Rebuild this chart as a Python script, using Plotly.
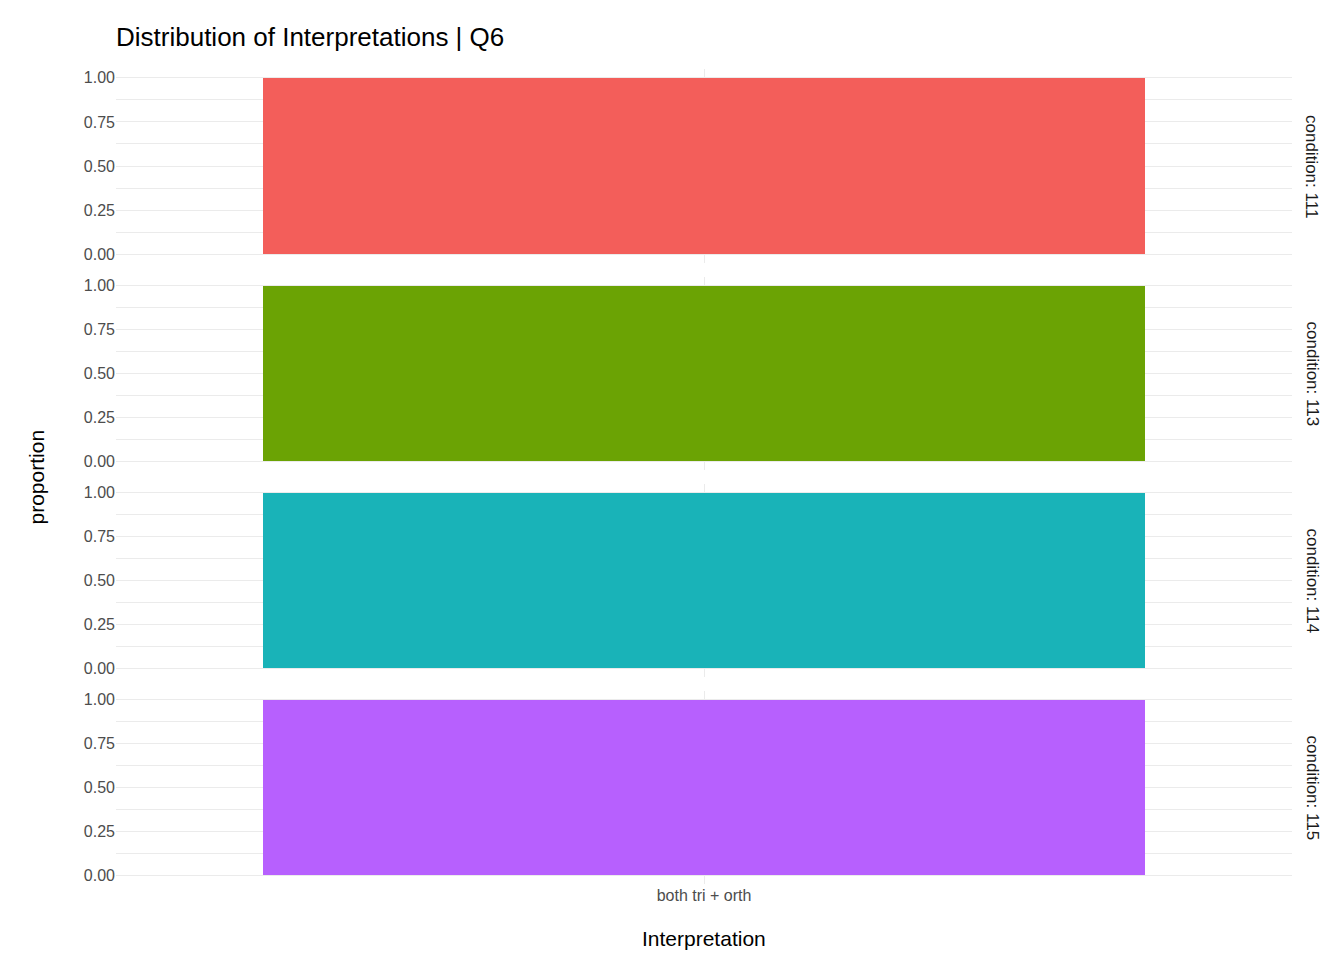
import plotly.graph_objects as go

categories = ["both tri + orth"]
conditions = ["111", "113", "114", "115"]
proportions = [[1.0], [1.0], [1.0], [1.0]]
colors = ["#F8766D", "#7CAE00", "#00BFC4", "#C77CFF"]
colors = ["#F35E5A", "#6BA304", "#19B3B8", "#B760FE"]
yticks = [0, 0.25, 0.5, 0.75, 1.0]
yticklabels = ["0.00", "0.25", "0.50", "0.75", "1.00"]

W, H = 1344, 960
L, R, T, B = 108, 60, 61, 84
ph = H - T - B
# panel pixel extents (top, bottom)
panels = [(61, 255), (269, 462), (476, 669), (683, 876)]

fig = go.Figure()
font = dict(family="Liberation Sans, Arial", size=16, color="#4d4d4d")
for i, (cond, vals, col) in enumerate(zip(conditions, proportions, colors)):
    n = "" if i == 0 else str(i + 1)
    fig.add_trace(go.Bar(x=categories, y=vals, marker=dict(color=col, line=dict(width=0)),
                         width=0.9, xaxis="x" + n, yaxis="y" + n, showlegend=False))
    top, bot = panels[i]
    dom = [(H - B - bot) / ph, (H - B - top) / ph]
    fig.layout["yaxis" + n] = dict(domain=dom, range=[-0.05, 1.05], tickvals=yticks,
        ticktext=yticklabels, tickfont=font, gridcolor="#ebebeb", gridwidth=1.3,
        zeroline=False, anchor="x" + n, ticks="",
        minor=dict(tickvals=[0.125, 0.375, 0.625, 0.875], showgrid=True, gridcolor="#ebebeb", gridwidth=0.6))
    fig.layout["xaxis" + n] = dict(domain=[0, 1], range=[-0.6, 0.6], anchor="y" + n,
        showticklabels=(i == 3), tickfont=font, gridcolor="#ebebeb", gridwidth=1.3,
        showgrid=True, zeroline=False, ticks="", type="category",
        matches=None if i == 0 else "x")
    fig.add_annotation(text="condition: " + cond, textangle=90, xref="paper", yref="paper",
                       x=1 + 20 / (W - L - R), y=sum(dom) / 2, showarrow=False,
                       xanchor="center", yanchor="middle",
                       font=dict(family="Liberation Sans, Arial", size=17, color="#1a1a1a"))

fig.add_annotation(text="proportion", textangle=-90, xref="paper", yref="paper",
                   x=-80 / (W - L - R), y=0.5, showarrow=False, xanchor="center",
                   font=dict(family="Liberation Sans, Arial", size=21, color="black"))
fig.add_annotation(text="Interpretation", xref="paper", yref="paper", x=0.5,
                   y=-54 / ph, showarrow=False, yanchor="middle",
                   font=dict(family="Liberation Sans, Arial", size=21, color="black"))
fig.update_layout(width=W, height=H, margin=dict(l=L, r=R, t=T, b=B),
                  paper_bgcolor="white", plot_bgcolor="white", bargap=0,
                  title=dict(text="Distribution of Interpretations | Q6", x=L / W, xanchor="left",
                             y=1 - 29 / H, yanchor="middle",
                             font=dict(family="Liberation Sans, Arial", size=26, color="black")))
fig.write_html("out.html")
